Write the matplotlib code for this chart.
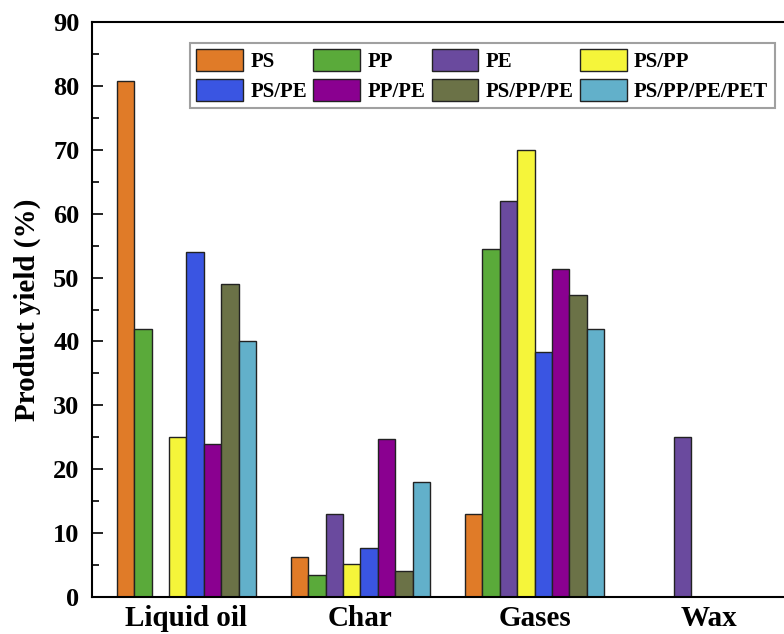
import numpy as np
import matplotlib
matplotlib.use('Agg')
import matplotlib.pyplot as plt
from matplotlib.ticker import MultipleLocator

plt.rcParams['font.family'] = ['Liberation Serif', 'DejaVu Serif']
plt.rcParams['font.weight'] = 'bold'

categories = ['Liquid oil', 'Char', 'Gases', 'Wax']
series = ['PS', 'PP', 'PE', 'PS/PP', 'PS/PE', 'PP/PE', 'PS/PP/PE', 'PS/PP/PE/PET']

ps = [80.8, 6.2, 13.0, 0]
pp = [42.0, 3.4, 54.5, 0]
pe = [0, 13.0, 62.0, 25.0]
ps_pp = [25.0, 5.2, 70.0, 0]
ps_pe = [54.0, 7.7, 38.3, 0]
pp_pe = [24.0, 24.8, 51.3, 0]
ps_pp_pe = [49.0, 4.0, 47.2, 0]
ps_pp_pe_pet = [40.0, 18.0, 42.0, 0]

values = [ps, pp, pe, ps_pp, ps_pe, pp_pe, ps_pp_pe, ps_pp_pe_pet]
colors = ['#E07B28', '#5AAA3A', '#6A4A9E', '#F5F53A',
          '#3A55E2', '#8A0090', '#6B7247', '#62B0CA']

fig = plt.figure(figsize=(7.84, 6.34), dpi=100)
ax = fig.add_axes([92/784, 1 - 597/634, 711/784, 575/634])

x = np.arange(len(categories))
w = 0.1
handles = []
for i, (name, vals, c) in enumerate(zip(series, values, colors)):
    b = ax.bar(x + (i - 3.5) * w, vals, w, color=c, edgecolor='#222222',
               linewidth=1.0, label=name)
    handles.append(b)

ax.set_xlim(-0.543, 3.543)
ax.set_ylim(0, 90)
ax.set_xticks(x)
ax.set_xticklabels(categories, fontsize=21, fontweight='bold')
ax.tick_params(axis='x', length=0, pad=6)
ax.yaxis.set_major_locator(MultipleLocator(10))
ax.yaxis.set_minor_locator(MultipleLocator(5))
ax.tick_params(axis='y', which='major', direction='in', length=8, width=1.2,
               labelsize=19, pad=9)
ax.tick_params(axis='y', which='minor', direction='in', length=5, width=1.2)
for lbl in ax.get_yticklabels():
    lbl.set_fontweight('bold')
ax.set_ylabel('Product yield (%)', fontsize=21, fontweight='bold', labelpad=9)
for s in ax.spines.values():
    s.set_linewidth(1.5)

# legend rows: PS PP PE PS/PP / PS/PE PP/PE PS/PP/PE PS/PP/PE/PET
order = [0, 4, 1, 5, 2, 6, 3, 7]
leg = fig.legend([handles[k] for k in order], [series[k] for k in order],
                 loc='upper left', bbox_to_anchor=(190/784, 1 - 43/634),
                 ncol=4, fontsize=15, frameon=True, fancybox=False,
                 edgecolor='#888888', handlelength=2.25, handleheight=1.25,
                 handletextpad=0.35, columnspacing=0.3, labelspacing=0.3,
                 borderpad=0.3, borderaxespad=0)
leg.get_frame().set_linewidth(1.5)
for t in leg.get_texts():
    t.set_fontweight('bold')

fig.savefig('out.png', dpi=100)
